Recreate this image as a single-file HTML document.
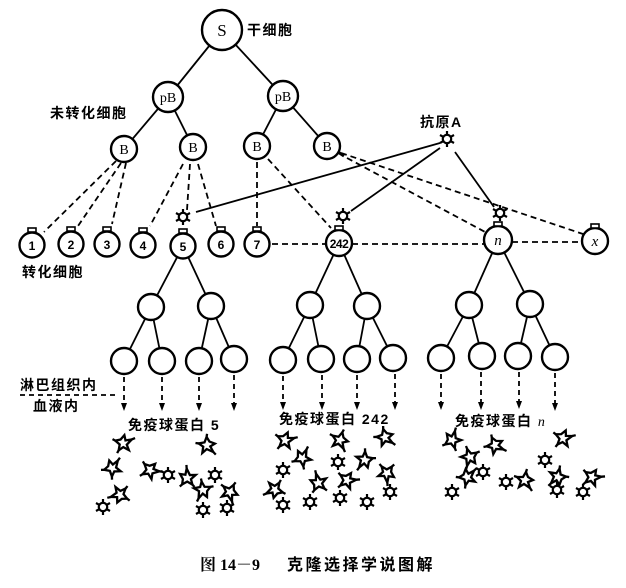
<!DOCTYPE html>
<html><head><meta charset="utf-8">
<style>
html,body{margin:0;padding:0;background:#fff;}
svg{display:block;}
.cj{font-family:"Liberation Sans","Noto Sans CJK SC",sans-serif;font-weight:bold;font-size:14px;letter-spacing:1.5px;fill:#000;}
.sf{font-family:"Liberation Serif",serif;fill:#000;}
</style></head>
<body>
<svg width="626" height="588" viewBox="0 0 626 588" xmlns="http://www.w3.org/2000/svg">
<defs>
  <g id="ag" fill="none" stroke="#000" stroke-width="2.2">
    <circle cx="0" cy="0" r="4.2" fill="#fff"/>
    <path d="M0,-4.2V-8 M3.6,-2.1L7,-4 M3.6,2.1L7,4 M0,4.2V8 M-3.6,2.1L-7,4 M-3.6,-2.1L-7,-4"/>
  </g>
  <g id="ab" fill="none" stroke="#000" stroke-width="2.3" stroke-linejoin="miter">
    <polygon points="0,-8 2,-3 8,-5 4,1 7,6 1,4 -3,8 -3,2 -8,-1 -3,-3" fill="#fff"/>
    <path d="M8,-5 L11,-7 M-3,8 L-4,11 M-8,-1 L-11,-2"/>
  </g>
  <polygon id="ah" points="-3,-7 3,-7 0,1" fill="#000"/>
</defs>

<!-- solid tree lines top -->
<g stroke="#000" stroke-width="1.8" fill="none">
  <line x1="222" y1="30" x2="168" y2="97"/>
  <line x1="222" y1="30" x2="283" y2="96"/>
  <line x1="168" y1="97" x2="124" y2="149"/>
  <line x1="168" y1="97" x2="193" y2="147"/>
  <line x1="283" y1="96" x2="257" y2="146"/>
  <line x1="283" y1="96" x2="327" y2="146"/>
  <!-- antigen lines -->
  <line x1="440" y1="143" x2="196" y2="212"/>
  <line x1="440" y1="148" x2="351" y2="211"/>
  <line x1="455" y1="152" x2="494" y2="207"/>
</g>

<!-- dashed lines from B cells -->
<g stroke="#000" stroke-width="1.8" fill="none" stroke-dasharray="6,4">
  <line x1="116" y1="161" x2="44" y2="232"/>
  <line x1="121" y1="163" x2="78" y2="226"/>
  <line x1="126" y1="163" x2="112" y2="224"/>
  <line x1="183" y1="164" x2="150" y2="226"/>
  <line x1="190" y1="164" x2="187" y2="210"/>
  <line x1="198" y1="164" x2="216" y2="226"/>
  <line x1="257" y1="162" x2="257" y2="226"/>
  <line x1="268" y1="159" x2="331" y2="228"/>
  <line x1="341" y1="153" x2="586" y2="235"/>
  <line x1="347" y1="158" x2="487" y2="233"/>
  <!-- horizontal -->
  <line x1="272" y1="244" x2="326" y2="244"/>
  <line x1="352" y1="244" x2="484" y2="244"/>
  <line x1="512" y1="242" x2="582" y2="242"/>
</g>
<path d="M338,152 L344,156" stroke="#000" stroke-width="3"/>

<!-- clone tree lines -->
<g stroke="#000" stroke-width="1.8" fill="none">
  <line x1="183" y1="246" x2="151" y2="307"/>
  <line x1="183" y1="246" x2="211" y2="306"/>
  <line x1="151" y1="307" x2="124" y2="361"/>
  <line x1="151" y1="307" x2="162" y2="361"/>
  <line x1="211" y1="306" x2="199" y2="361"/>
  <line x1="211" y1="306" x2="234" y2="359"/>
  <line x1="339" y1="243" x2="310" y2="305"/>
  <line x1="339" y1="243" x2="367" y2="306"/>
  <line x1="310" y1="305" x2="283" y2="360"/>
  <line x1="310" y1="305" x2="321" y2="359"/>
  <line x1="367" y1="306" x2="357" y2="359"/>
  <line x1="367" y1="306" x2="393" y2="358"/>
  <line x1="498" y1="240" x2="469" y2="305"/>
  <line x1="498" y1="240" x2="530" y2="304"/>
  <line x1="469" y1="305" x2="441" y2="358"/>
  <line x1="469" y1="305" x2="482" y2="356"/>
  <line x1="530" y1="304" x2="518" y2="356"/>
  <line x1="530" y1="304" x2="555" y2="357"/>
</g>

<!-- dashed arrows -->
<g stroke="#000" stroke-width="1.8" fill="none" stroke-dasharray="5,4">
  <line x1="124" y1="377" x2="124" y2="403"/>
  <line x1="162" y1="377" x2="162" y2="403"/>
  <line x1="199" y1="377" x2="199" y2="403"/>
  <line x1="234" y1="375" x2="234" y2="403"/>
  <line x1="283" y1="376" x2="283" y2="402"/>
  <line x1="322" y1="375" x2="322" y2="402"/>
  <line x1="357" y1="375" x2="357" y2="402"/>
  <line x1="395" y1="374" x2="395" y2="402"/>
  <line x1="441" y1="374" x2="441" y2="402"/>
  <line x1="481" y1="372" x2="481" y2="402"/>
  <line x1="519" y1="372" x2="519" y2="401"/>
  <line x1="555" y1="373" x2="555" y2="403"/>
  <line x1="20" y1="395" x2="116" y2="395"/>
</g>
<g>
  <use href="#ah" x="124" y="410"/>
  <use href="#ah" x="162" y="410"/>
  <use href="#ah" x="199" y="410"/>
  <use href="#ah" x="234" y="410"/>
  <use href="#ah" x="283" y="409"/>
  <use href="#ah" x="322" y="409"/>
  <use href="#ah" x="357" y="409"/>
  <use href="#ah" x="395" y="409"/>
  <use href="#ah" x="441" y="409"/>
  <use href="#ah" x="481" y="409"/>
  <use href="#ah" x="519" y="408"/>
  <use href="#ah" x="555" y="410"/>
</g>

<!-- nodes -->
<g stroke="#000" stroke-width="2.4" fill="#fff">
  <circle cx="222" cy="30" r="20"/>
  <circle cx="168" cy="97" r="15"/>
  <circle cx="283" cy="96" r="15"/>
  <circle cx="124" cy="149" r="13"/>
  <circle cx="193" cy="147" r="13"/>
  <circle cx="257" cy="146" r="13"/>
  <circle cx="327" cy="146" r="13"/>
  <!-- transformed cells -->
  <circle cx="32" cy="245" r="12.5"/>
  <circle cx="71" cy="244" r="12.5"/>
  <circle cx="107" cy="244" r="12.5"/>
  <circle cx="143" cy="245" r="12.5"/>
  <circle cx="183" cy="246" r="12.5"/>
  <circle cx="221" cy="244" r="12.5"/>
  <circle cx="257" cy="244" r="12.5"/>
  <circle cx="339" cy="243" r="13"/>
  <circle cx="498" cy="240" r="14"/>
  <circle cx="595" cy="241" r="13"/>
  <!-- clone trees -->
  <circle cx="151" cy="307" r="13"/>
  <circle cx="211" cy="306" r="13"/>
  <circle cx="124" cy="361" r="13"/>
  <circle cx="162" cy="361" r="13"/>
  <circle cx="199" cy="361" r="13"/>
  <circle cx="234" cy="359" r="13"/>
  <circle cx="310" cy="305" r="13"/>
  <circle cx="367" cy="306" r="13"/>
  <circle cx="283" cy="360" r="13"/>
  <circle cx="321" cy="359" r="13"/>
  <circle cx="357" cy="359" r="13"/>
  <circle cx="393" cy="358" r="13"/>
  <circle cx="469" cy="305" r="13"/>
  <circle cx="530" cy="304" r="13"/>
  <circle cx="441" cy="358" r="13"/>
  <circle cx="482" cy="356" r="13"/>
  <circle cx="518" cy="356" r="13"/>
  <circle cx="555" cy="357" r="13"/>
</g>
<!-- caps -->
<g stroke="#000" stroke-width="1.6" fill="#fff">
  <rect x="28" y="228" width="8" height="4"/>
  <rect x="67" y="227" width="8" height="4"/>
  <rect x="103" y="227" width="8" height="4"/>
  <rect x="139" y="228" width="8" height="4"/>
  <rect x="179" y="229" width="8" height="4"/>
  <rect x="217" y="227" width="8" height="4"/>
  <rect x="253" y="227" width="8" height="4"/>
  <rect x="335" y="226" width="8" height="4"/>
  <rect x="494" y="222" width="8" height="4"/>
  <rect x="591" y="224" width="8" height="4"/>
</g>

<!-- antigens on top -->
<use href="#ag" x="447" y="139"/>
<use href="#ag" x="183" y="217"/>
<use href="#ag" x="343" y="216"/>
<use href="#ag" x="500" y="213"/>

<!-- node labels -->
<text x="222" y="36" class="sf" font-size="17" text-anchor="middle">S</text>
<text x="168" y="102" class="sf" font-size="14" text-anchor="middle">pB</text>
<text x="283" y="101" class="sf" font-size="14" text-anchor="middle">pB</text>
<text x="124" y="154" class="sf" font-size="14" text-anchor="middle">B</text>
<text x="193" y="152" class="sf" font-size="14" text-anchor="middle">B</text>
<text x="257" y="151" class="sf" font-size="14" text-anchor="middle">B</text>
<text x="327" y="151" class="sf" font-size="14" text-anchor="middle">B</text>
<g font-family="Liberation Sans, sans-serif" font-weight="bold" font-size="12" text-anchor="middle">
  <text x="32" y="250">1</text>
  <text x="71" y="249">2</text>
  <text x="107" y="249">3</text>
  <text x="143" y="250">4</text>
  <text x="183" y="251">5</text>
  <text x="221" y="249">6</text>
  <text x="257" y="249">7</text>
  <text x="339" y="248" font-size="12" letter-spacing="-0.5">242</text>
</g>
<text x="498" y="245" class="sf" font-size="15" font-style="italic" text-anchor="middle">n</text>
<text x="595" y="246" class="sf" font-size="15" font-style="italic" text-anchor="middle">x</text>

<!-- chinese labels -->
<text x="247" y="35" class="cj">干细胞</text>
<text x="50" y="118" class="cj">未转化细胞</text>
<text x="420" y="127" class="cj">抗原A</text>
<text x="22" y="277" class="cj">转化细胞</text>
<text x="20" y="390" class="cj">淋巴组织内</text>
<text x="33" y="411" class="cj">血液内</text>
<text x="128" y="430" class="cj">免疫球蛋白 5</text>
<text x="279" y="424" class="cj">免疫球蛋白 242</text>
<text x="455" y="426" class="cj">免疫球蛋白 <tspan font-family="Liberation Serif, serif" font-style="italic" font-weight="normal">n</tspan></text>

<!-- antibody clusters -->
<g>
  <use href="#ab" transform="translate(123,443) rotate(10)"/>
  <use href="#ab" transform="translate(207,445) rotate(80)"/>
  <use href="#ab" transform="translate(112,468) rotate(-20)"/>
  <use href="#ab" transform="translate(150,470) rotate(40)"/>
  <use href="#ag" x="168" y="475"/>
  <use href="#ab" transform="translate(187,478) rotate(-60)"/>
  <use href="#ag" x="215" y="475"/>
  <use href="#ab" transform="translate(203,490) rotate(150)"/>
  <use href="#ab" transform="translate(230,492) rotate(110)"/>
  <use href="#ab" transform="translate(120,495) rotate(200)"/>
  <use href="#ag" x="103" y="507"/>
  <use href="#ag" x="203" y="510"/>
  <use href="#ag" x="227" y="508"/>

  <use href="#ab" transform="translate(285,440) rotate(20)"/>
  <use href="#ab" transform="translate(340,440) rotate(100)"/>
  <use href="#ab" transform="translate(385,437) rotate(70)"/>
  <use href="#ab" transform="translate(302,458) rotate(-30)"/>
  <use href="#ag" x="338" y="462"/>
  <use href="#ab" transform="translate(365,460) rotate(160)"/>
  <use href="#ag" x="283" y="470"/>
  <use href="#ab" transform="translate(387,473) rotate(120)"/>
  <use href="#ab" transform="translate(318,483) rotate(-70)"/>
  <use href="#ab" transform="translate(347,480) rotate(30)"/>
  <use href="#ab" transform="translate(275,490) rotate(190)"/>
  <use href="#ag" x="390" y="492"/>
  <use href="#ag" x="310" y="502"/>
  <use href="#ag" x="340" y="498"/>
  <use href="#ag" x="367" y="502"/>
  <use href="#ag" x="283" y="505"/>

  <use href="#ab" transform="translate(452,440) rotate(-40)"/>
  <use href="#ab" transform="translate(495,445) rotate(60)"/>
  <use href="#ab" transform="translate(563,438) rotate(20)"/>
  <use href="#ab" transform="translate(470,457) rotate(140)"/>
  <use href="#ag" x="545" y="460"/>
  <use href="#ag" x="483" y="472"/>
  <use href="#ab" transform="translate(467,477) rotate(-10)"/>
  <use href="#ab" transform="translate(558,477) rotate(170)"/>
  <use href="#ab" transform="translate(525,480) rotate(90)"/>
  <use href="#ab" transform="translate(592,477) rotate(30)"/>
  <use href="#ag" x="506" y="482"/>
  <use href="#ag" x="452" y="492"/>
  <use href="#ag" x="557" y="490"/>
  <use href="#ag" x="583" y="492"/>
</g>

<!-- caption -->
<text x="200" y="570" font-family="Liberation Serif, 'Noto Serif CJK SC', serif" font-weight="bold" font-size="16">图 14－9</text>
<text x="287" y="570" font-family="Liberation Sans, 'Noto Sans CJK SC', sans-serif" font-weight="bold" font-size="16" letter-spacing="2.5">克隆选择学说图解</text>
</svg>
</body></html>
